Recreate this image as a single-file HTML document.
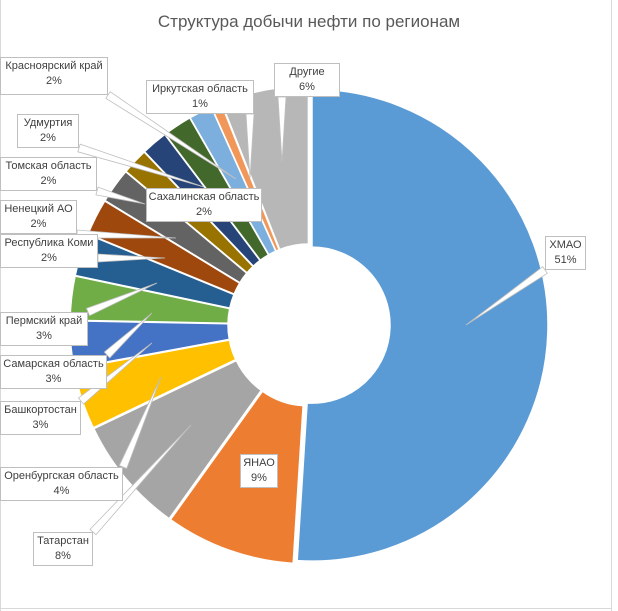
<!DOCTYPE html>
<html><head><meta charset="utf-8">
<style>
body{margin:0;background:#fff;font-family:"Liberation Sans",sans-serif;}
#wrap{position:relative;width:618px;height:611px;overflow:hidden;}
.lbl{position:absolute;background:#fff;border:1px solid #bfbfbf;color:#404040;font-size:11px;line-height:15px;text-align:center;box-sizing:border-box;padding-top:1px;white-space:nowrap;}
</style></head>
<body>
<div id="wrap">
<div style="position:absolute;left:0;top:0;width:1px;height:611px;background:#d9d9d9"></div>
<div style="position:absolute;left:611px;top:0;width:1px;height:611px;background:#d9d9d9"></div>
<div style="position:absolute;left:0;top:608px;width:612px;height:1px;background:#d9d9d9"></div>
<div style="position:absolute;left:0;width:618px;top:12px;text-align:center;font-size:17px;color:#595959">Структура добычи нефти по регионам</div>
<svg id="svg" width="618" height="611" style="position:absolute;left:0;top:0"></svg>
</div>
<script>
const categories=["ХМАО","ЯНАО","Татарстан","Оренбургская область","Башкортостан","Самарская область","Пермский край","Республика Коми","Ненецкий АО","Томская область","Удмуртия","Красноярский край","Сахалинская область","Иркутская область","Другие"];
const values=[51,8.9,8.0,4.2,3.2,3.0,2.9,2.5,2.4,1.8,1.8,2.0,1.6,0.7,6.0];
const pctLabels=["51%","9%","8%","4%","3%","3%","3%","2%","2%","2%","2%","2%","2%","1%","6%"];
const colors=["#5B9BD5","#ED7D31","#A5A5A5","#FFC000","#4472C4","#70AD47","#255E91","#9E480E","#636363","#997300","#264478","#43682B","#7CAFDD","#F1975A","#B7B7B7"];
// label box layout [left, top, width, height] and leader tip [x,y]
const boxes=[[545,236,41,34],[240,454,38,34],[33,532,60,34],[0,467,123,34],[0,401,81,34],[0,355,107,34],[0,312,88,34],[0,234,98,34],[0,200,77,34],[0,157,97,34],[17,114,62,34],[0,57,108,38],[146,188,116,34],[146,80,108,34],[274,63,66,34]];
const tips=[[466,325],null,[191,425],[161,377],[152,343],[152,313],[157,283],[165,258],[176,238],[145,204],[204,187],[236,179],null,[250,178],[282,162]];
const svg=document.getElementById('svg');
const NS='http://www.w3.org/2000/svg';
const cx=309,cy=325,R=236,r=78,EXP=3;
const total=values.reduce((a,b)=>a+b,0);
function pt(a,rad,ox,oy){return [cx+ox+rad*Math.sin(a),cy+oy-rad*Math.cos(a)];}
let acc=0;
values.forEach((v,i)=>{
  const a0=acc/total*2*Math.PI;acc+=v;const a1=acc/total*2*Math.PI;
  const am=(a0+a1)/2,ox=EXP*Math.sin(am),oy=-EXP*Math.cos(am);
  const p1=pt(a0,R,ox,oy),p2=pt(a1,R,ox,oy),p3=pt(a1,r,ox,oy),p4=pt(a0,r,ox,oy);
  const lg=(a1-a0)>Math.PI?1:0;
  const path=document.createElementNS(NS,'path');
  path.setAttribute('d',`M${p1}A${R},${R} 0 ${lg} 1 ${p2}L${p3}A${r},${r} 0 ${lg} 0 ${p4}Z`);
  path.setAttribute('fill',colors[i]);path.setAttribute('stroke','#fff');path.setAttribute('stroke-width','1.5');
  
  
  svg.appendChild(path);
});
// leader wedges
boxes.forEach((b,i)=>{
  const t=tips[i];if(!t)return;
  const bx=Math.max(b[0],Math.min(b[0]+b[2],t[0])),by=Math.max(b[1],Math.min(b[1]+b[3],t[1]));
  const dx=t[0]-bx,dy=t[1]-by,len=Math.hypot(dx,dy)||1;
  const nx=-dy/len*4,ny=dx/len*4;
  const poly=document.createElementNS(NS,'polygon');
  poly.setAttribute('points',`${bx+nx},${by+ny} ${t[0]},${t[1]} ${bx-nx},${by-ny}`);
  poly.setAttribute('fill','#fff');poly.setAttribute('stroke','#bfbfbf');poly.setAttribute('stroke-width','0.8');
  
  
  svg.appendChild(poly);
});
const wrap=document.getElementById('wrap');
boxes.forEach((b,i)=>{
  const d=document.createElement('div');
  d.className='lbl';
  d.style.left=b[0]+'px';d.style.top=b[1]+'px';d.style.width=b[2]+'px';d.style.height=b[3]+'px';
  d.innerHTML=categories[i]+'<br>'+pctLabels[i];
  
  
  wrap.appendChild(d);
});
</script>
</body></html>
